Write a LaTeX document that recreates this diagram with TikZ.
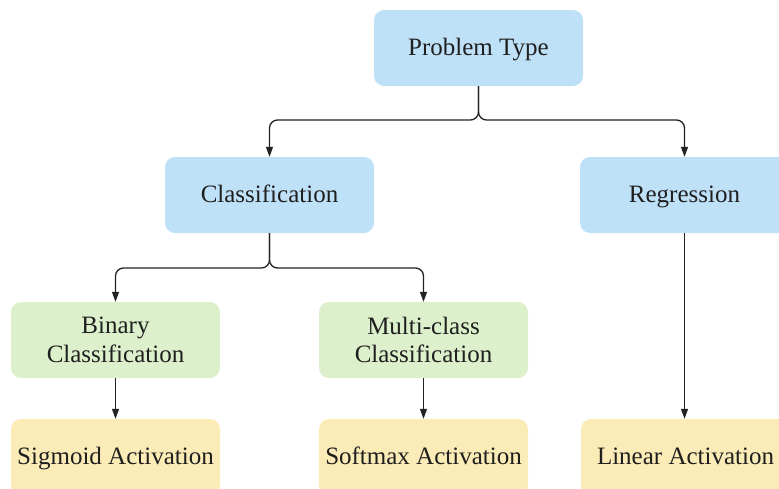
\documentclass[tikz,border=0pt]{standalone}
\usepackage{fontspec}
\setmainfont{Liberation Serif}
\usetikzlibrary{arrows.meta}
\definecolor{boxblue}{RGB}{191,225,248}
\definecolor{boxgreen}{RGB}{221,240,204}
\definecolor{boxyellow}{RGB}{251,235,182}
\definecolor{linkgray}{RGB}{34,34,34}
\tikzset{
  box/.style={rectangle, rounded corners=10pt, minimum width=209pt, minimum height=76pt,
    inner sep=0pt, align=center, text=black!88,
    font=\fontsize{25}{28.4}\selectfont},
  oneline/.style={text height=20pt, text depth=5.6pt},
  bluebox/.style={box, oneline, fill=boxblue},
  greenbox/.style={box, fill=boxgreen},
  yellowbox/.style={box, oneline, fill=boxyellow},
  link/.style={draw=linkgray, line width=1.3pt, rounded corners=8pt,
    -{Triangle[length=10pt,width=7pt]}},
}
\begin{document}
\begin{tikzpicture}[x=1pt, y=-1pt]
\useasboundingbox (0,0) rectangle (779,488);
\clip (0,0) rectangle (779,488);

% level 0
\node[bluebox] (pt) at (478.5,48) {Problem Type};
% level 1
\node[bluebox] (cls) at (269.5,195) {Classification};
\node[bluebox] (reg) at (684.5,195) {Regression};
% level 2
\node[greenbox] (bin) at (115.5,340) {Binary\\Classification};
\node[greenbox] (mul) at (423.5,340) {Multi-class\\Classification};
% level 3
\node[yellowbox] (sig) at (115.5,457) {Sigmoid Activation};
\node[yellowbox] (sof) at (423.5,457) {Softmax Activation};
\node[yellowbox] (lin) at (685.5,457) {Linear Activation};

% junctions where the branches split
\coordinate (j1) at (478.5,120);
\coordinate (j2) at (269.5,268);

\draw[link] (pt.south) -- (j1) -| (cls.north);
\draw[link] (pt.south) -- (j1) -| (reg.north);
\draw[link] (cls.south) -- (j2) -| (bin.north);
\draw[link] (cls.south) -- (j2) -| (mul.north);
\draw[link] (reg.south) -- (reg.south |- lin.north);
\draw[link] (bin) -- (sig);
\draw[link] (mul) -- (sof);
\end{tikzpicture}
\end{document}
